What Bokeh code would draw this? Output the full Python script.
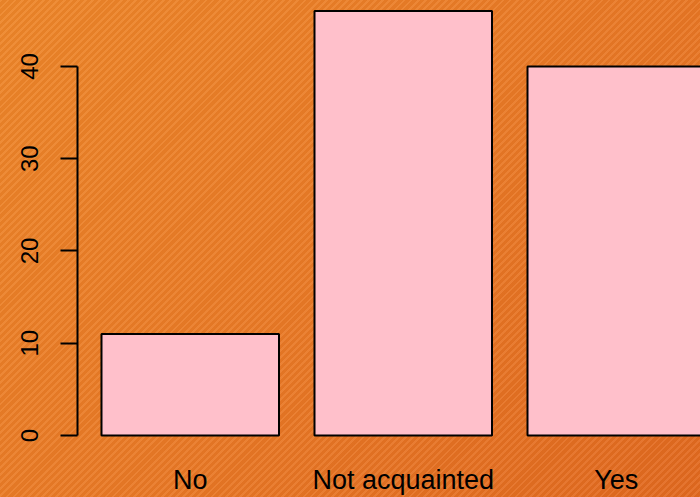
from bokeh.plotting import figure
from bokeh.models import Range1d, FixedTicker, ColumnDataSource
from bokeh.embed import file_html
from bokeh.resources import INLINE

categories = ["No", "Not acquainted", "Yes"]
counts = [11, 46, 40]
y_ticks = [0, 10, 20, 30, 40]

bar_width = 1.0
space = 0.2
lefts = [space + i * (bar_width + space) for i in range(len(categories))]
rights = [l + bar_width for l in lefts]
centers = [l + bar_width / 2 for l in lefts]

src = ColumnDataSource(dict(left=lefts, right=rights, top=counts,
                            bottom=[0] * len(counts), cat=categories))

p = figure(width=700, height=497, output_backend="svg", toolbar_location=None,
           x_range=Range1d(0.0648, 3.5746), y_range=Range1d(-0.325, 47.15),
           min_border_left=77, min_border_right=0, min_border_top=0,
           min_border_bottom=59)
p.background_fill_color = None
p.border_fill_color = None
p.outline_line_color = None
p.grid.visible = False

p.quad(left="left", right="right", top="top", bottom="bottom", source=src,
       fill_color="#FFC0CB", line_color="black", line_width=2)

ya = p.yaxis[0]
ya.ticker = FixedTicker(ticks=y_ticks)
ya.bounds = (0, 40)
ya.major_label_orientation = "vertical"
ya.major_tick_out = 17
ya.major_tick_in = 0
ya.minor_tick_line_color = None
ya.axis_line_width = 2
ya.major_tick_line_width = 2
ya.axis_line_color = "black"
ya.major_tick_line_color = "black"
ya.major_label_text_font = "Liberation Sans"
ya.major_label_text_font_size = "24px"
ya.major_label_text_color = "black"
ya.major_label_standoff = 22

xa = p.xaxis[0]
xa.ticker = FixedTicker(ticks=centers)
xa.major_label_overrides = {c: lab for c, lab in zip(centers, categories)}
xa.axis_line_color = None
xa.major_tick_line_color = None
xa.minor_tick_line_color = None
xa.major_tick_out = 0
xa.major_tick_in = 0
xa.major_label_text_font = "Liberation Sans"
xa.major_label_text_font_size = "27px"
xa.major_label_text_color = "black"
xa.major_label_standoff = 26

html = file_html(p, INLINE)
css = ("<style>html,body{margin:0;padding:0;overflow:hidden;height:100%;"
       "background:repeating-linear-gradient(135deg, rgba(255,255,255,0.07) 0px, "
       "rgba(255,255,255,0.07) 2px, rgba(0,0,0,0.03) 2px, rgba(0,0,0,0.03) 5px),"
       "linear-gradient(135deg, #EE8629 0%, #EA7A26 50%, #E2691F 100%);}</style>")
html = html.replace("</head>", css + "</head>", 1)
open("out.html", "w").write(html)
